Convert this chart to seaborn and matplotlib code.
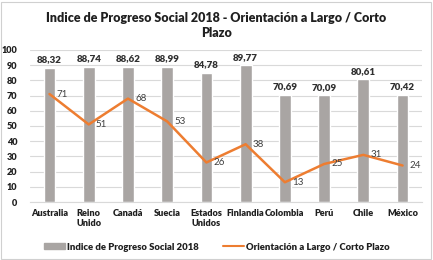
import matplotlib
matplotlib.use('Agg')
import numpy as np
import pandas as pd
import seaborn as sns
import matplotlib.pyplot as plt
from matplotlib.patches import Rectangle
from matplotlib.lines import Line2D

PAISES = ['Australia', 'Reino\nUnido', 'Canadá', 'Suecia', 'Estados\nUnidos',
          'Finlandia', 'Colombia', 'Perú', 'Chile', 'México']
IPS = [88.32, 88.74, 88.62, 88.99, 84.78, 89.77, 70.69, 70.09, 80.61, 70.42]
LTO = [71, 51, 68, 53, 26, 38, 13, 25, 31, 24]
LBL_BAR = 'Indice de Progreso Social 2018'
LBL_LINE = 'Orientación a Largo / Corto Plazo'
TITLE = 'Indice de Progreso Social 2018 - Orientación a Largo / Corto\nPlazo'

CLR_BAR = '#A9A5A3'
CLR_LINE = '#ED7D31'

sns.set_style('white')
plt.rcParams['font.family'] = ['Lato', 'DejaVu Sans']

df = pd.DataFrame({'pais': PAISES, 'ips': IPS, 'lto': LTO})

fig = plt.figure(figsize=(4.33, 2.6), dpi=100)
ax = fig.add_axes([0.069, 0.223, 0.906, 0.585])

sns.barplot(data=df, x='pais', y='ips', color=CLR_BAR, width=0.3,
            saturation=1, ax=ax, zorder=2)
sns.lineplot(x=np.arange(len(LTO)), y=df['lto'], color=CLR_LINE, lw=1.8,
             ax=ax, zorder=3)

for i, v in enumerate(IPS):
    ax.text(i, v + 2.5, '{:.2f}'.format(v).replace('.', ','), ha='center',
            va='bottom', fontsize=7, fontweight='heavy', color='#303030')
for i, v in enumerate(LTO):
    ax.text(i + 0.18, v, str(v), ha='left', va='center', fontsize=7,
            color='#404040')

ax.set_ylim(0, 100)
ax.set_xlim(-0.5, len(PAISES) - 0.5)
ax.set_yticks(np.arange(0, 101, 10))
ax.yaxis.grid(True, color='#D9D9D9', lw=0.8, zorder=0)
ax.set_axisbelow(True)
ax.set_xlabel('')
ax.set_ylabel('')
for s in ['top', 'right', 'left']:
    ax.spines[s].set_visible(False)
ax.spines['bottom'].set_color('#D9D9D9')
ax.tick_params(axis='both', length=0, labelsize=6.6, pad=5)
for t in ax.get_xticklabels() + ax.get_yticklabels():
    t.set_fontweight('heavy')
    t.set_color('#202020')
ax.tick_params(axis='y', pad=9)

fig.text(0.5, 0.955, TITLE, ha='center', va='top', fontsize=9,
         fontweight='heavy', color='#202020', linespacing=1.3)

handles = [Rectangle((0, 0), 1, 1, color=CLR_BAR),
           Line2D([0], [0], color=CLR_LINE, lw=1.5)]
leg = fig.legend(handles, [LBL_BAR, LBL_LINE], loc='center',
                 bbox_to_anchor=(0.5, 0.05), ncol=2, frameon=False,
                 prop={'size': 6.8, 'weight': 'heavy'}, handlelength=2.2,
                 handleheight=0.5, columnspacing=2.6, handletextpad=0.2)
for t in leg.get_texts():
    t.set_color('#202020')

fig.patches.append(Rectangle((0.003, 0.004), 0.992, 0.99, transform=fig.transFigure,
                             fill=False, edgecolor='#D0D0D0', lw=0.8))

fig.savefig('out.png', dpi=100)
